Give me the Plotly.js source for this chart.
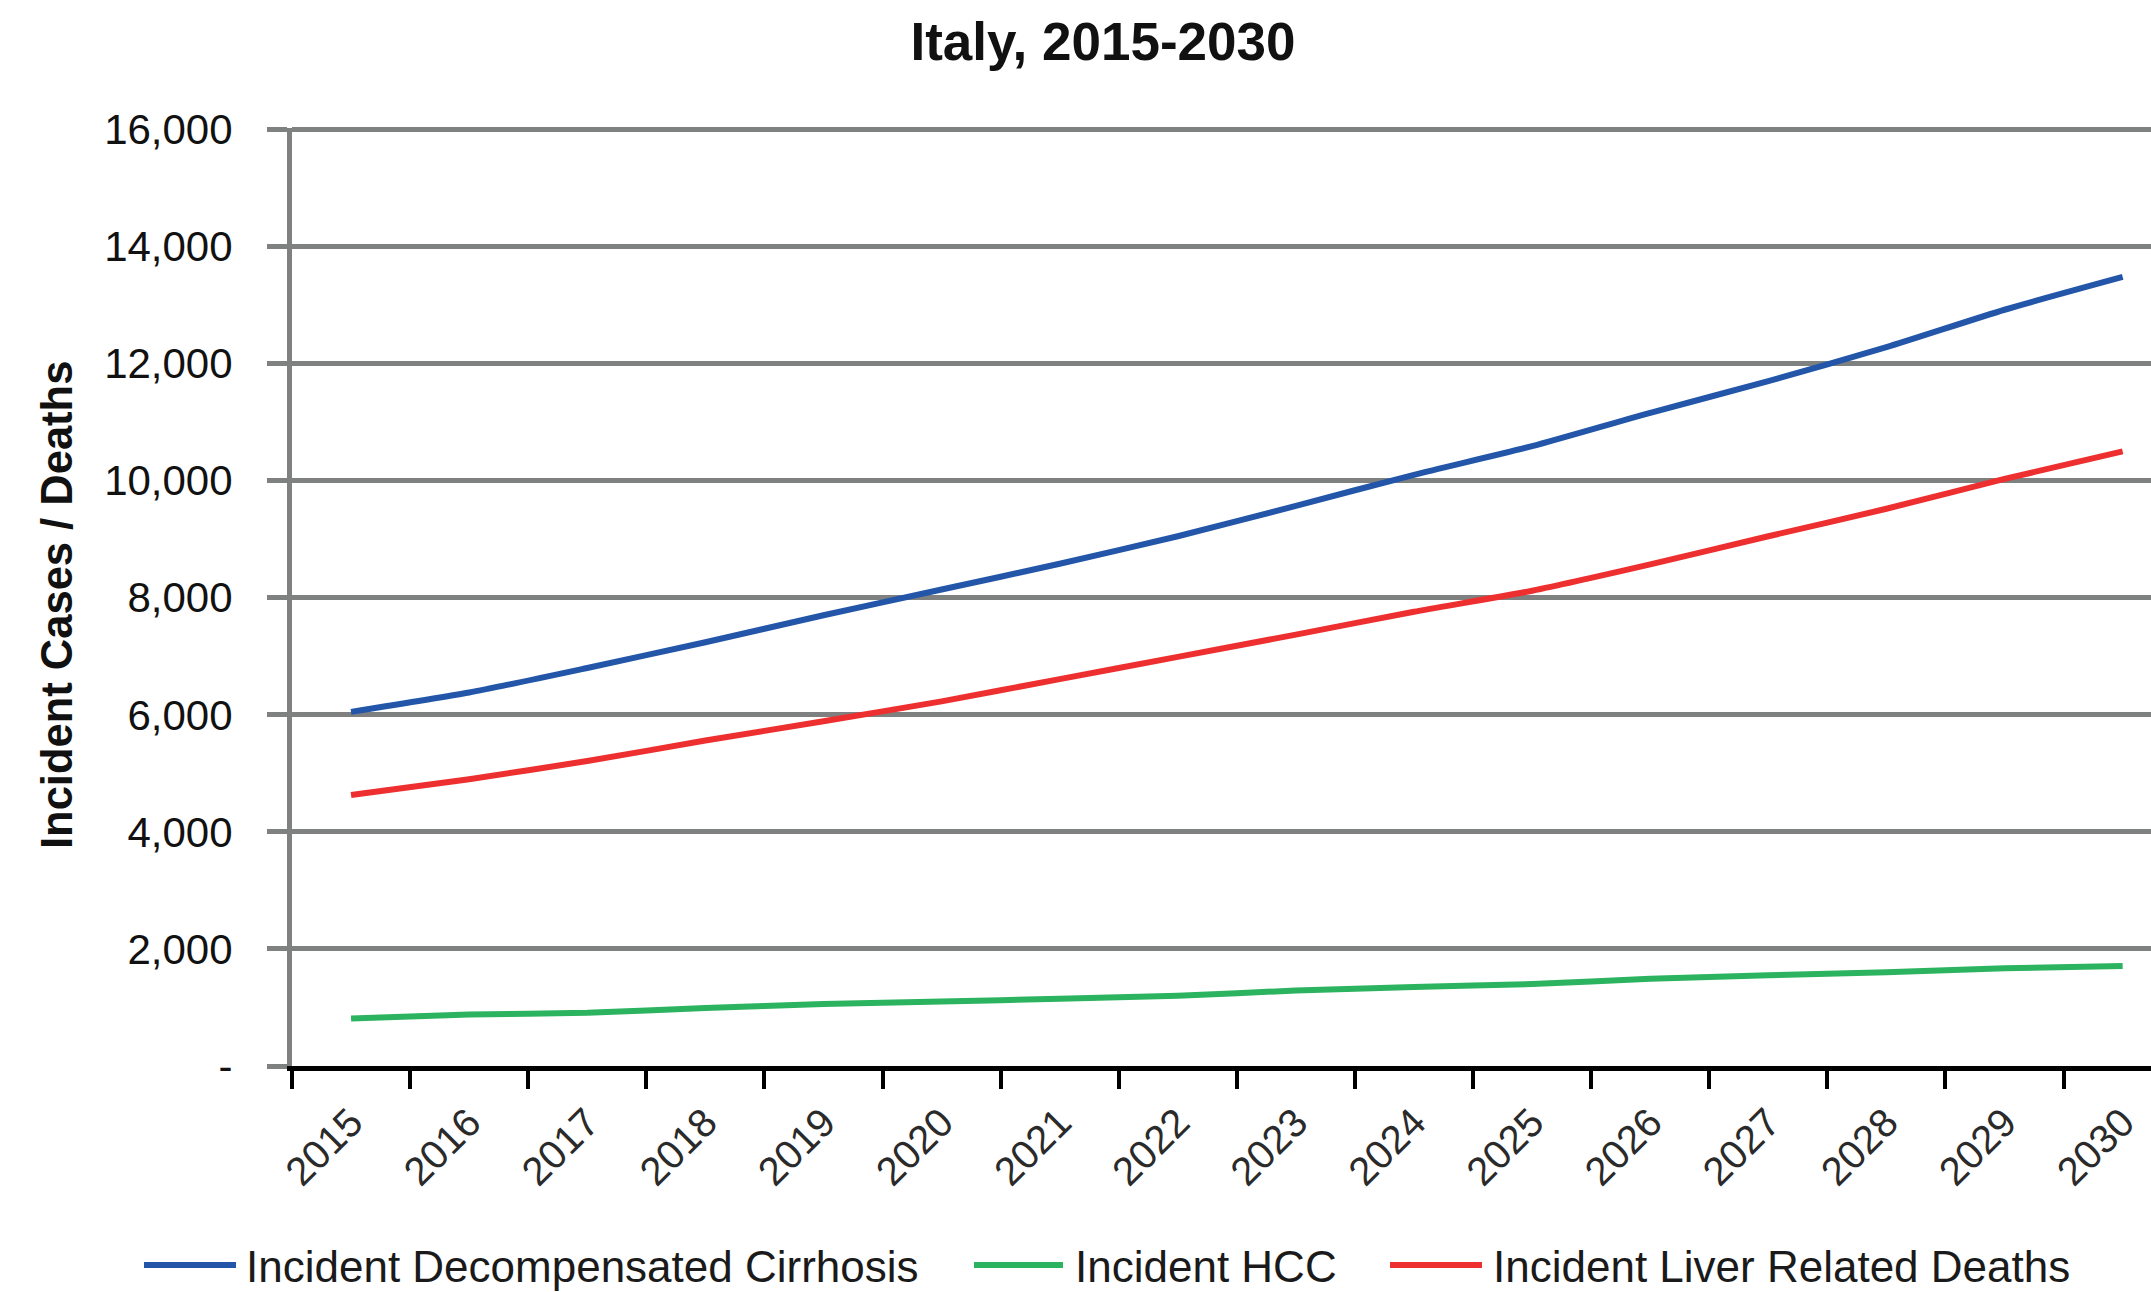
<!DOCTYPE html>
<html>
<head>
<meta charset="utf-8">
<script src="https://cdn.plot.ly/plotly-3.0.1.min.js"></script>
<style>
  html, body { margin: 0; padding: 0; background: #ffffff; }
  #chart { width: 2151px; height: 1292px; }
</style>
</head>
<body>
<div id="chart"></div>
<script>
// ---- Data ----
const years = ["2015","2016","2017","2018","2019","2020","2021","2022","2023","2024","2025","2026","2027","2028","2029","2030"];
const decompensatedCirrhosis = [6050, 6380, 6800, 7240, 7700, 8140, 8580, 9050, 9570, 10100, 10590, 11160, 11700, 12280, 12920, 13480];
const hcc = [810, 880, 910, 990, 1060, 1100, 1150, 1200, 1290, 1350, 1400, 1490, 1550, 1600, 1670, 1710];
const liverDeaths = [4630, 4900, 5210, 5560, 5890, 6230, 6610, 6990, 7370, 7760, 8120, 8570, 9050, 9520, 10030, 10500];
const seriesNames = ["Incident Decompensated Cirrhosis", "Incident HCC", "Incident Liver Related Deaths"];
const seriesColors = ["#2356a8", "#2bb35f", "#ee2f2f"];
const yTickVals = [0, 2000, 4000, 6000, 8000, 10000, 12000, 14000, 16000];
const yTickText = ["-", "2,000", "4,000", "6,000", "8,000", "10,000", "12,000", "14,000", "16,000"];
const chartTitle = "Italy, 2015-2030";
const yTitle = "Incident Cases / Deaths";

const FONT = "Liberation Sans, Arial, sans-serif";
const W = 2151, H = 1292;
const PL = 292, PT = 128, PR = 0, PB = 226;
const plotW = W - PL - PR, plotH = H - PT - PB;
const px2x = (X) => (X - PL) / plotW;
const px2y = (Y) => (H - PB - Y) / plotH;

const seriesValues = [decompensatedCirrhosis, hcc, liverDeaths];
const traces = seriesValues.map((vals, i) => ({
  x: years, y: vals, name: seriesNames[i], type: "scatter", mode: "lines",
  line: { color: seriesColors[i], width: 6, shape: "spline", smoothing: 0.6 },
  showlegend: false
}));

// Legend (drawn as keys + labels, positioned like the reference)
const legendLineX = [[144, 236], [974, 1063], [1390, 1482]];
const legendTextX = [244, 1073, 1491];
const legendY = 1265;
const shapes = [];
const annotations = [];
for (let i = 0; i < seriesNames.length; i++) {
  shapes.push({
    type: "line", xref: "paper", yref: "paper",
    x0: px2x(legendLineX[i][0]), x1: px2x(legendLineX[i][1]),
    y0: px2y(legendY), y1: px2y(legendY),
    line: { color: seriesColors[i], width: 6 }
  });
  annotations.push({
    text: seriesNames[i], xref: "paper", yref: "paper",
    x: px2x(legendTextX[i]), xanchor: "left",
    y: px2y(legendY + 1), yanchor: "middle",
    showarrow: false,
    font: { family: FONT, size: 44, color: "#1a1a1a" }
  });
}
annotations.push({
  text: "<b>" + yTitle + "</b>",
  textangle: -90,
  xref: "paper", x: px2x(57), xanchor: "center",
  yref: "paper", y: px2y(605), yanchor: "middle",
  showarrow: false,
  font: { family: FONT, size: 43.5, color: "#111111" }
});

const layout = {
  width: W,
  height: H,
  paper_bgcolor: "#ffffff",
  plot_bgcolor: "#ffffff",
  margin: { l: PL, r: PR, t: PT, b: PB, pad: 0 },
  font: { family: FONT, color: "#111111" },
  title: {
    text: "<b>" + chartTitle + "</b>",
    font: { family: FONT, size: 53, color: "#111111" },
    x: 1103 / W, xref: "container", xanchor: "center",
    y: 1 - 41 / H, yref: "container", yanchor: "middle"
  },
  showlegend: false,
  xaxis: {
    type: "category",
    range: [-0.5, 15.24],
    tickson: "boundaries",
    ticks: "outside",
    ticklen: 18,
    tickwidth: 4,
    tickcolor: "#000000",
    tickangle: -45,
    ticklabelstandoff: 12,
    tickfont: { family: FONT, size: 40, color: "#2a2a2a" },
    showline: true,
    linecolor: "#000000",
    linewidth: 5,
    showgrid: false,
    zeroline: false,
    fixedrange: true
  },
  yaxis: {
    range: [0, 16025],
    tickmode: "array",
    tickvals: yTickVals,
    ticktext: yTickText,
    ticks: "outside",
    ticklen: 20,
    tickwidth: 5,
    tickcolor: "#7f8080",
    ticklabelstandoff: 26,
    tickfont: { family: FONT, size: 42, color: "#111111" },
    showline: true,
    linecolor: "#7f8080",
    linewidth: 5,
    showgrid: true,
    gridcolor: "#7f8080",
    gridwidth: 5,
    zeroline: false,
    fixedrange: true
  },
  shapes: shapes,
  annotations: annotations
};

Plotly.newPlot("chart", traces, layout, { displayModeBar: false, staticPlot: true });
</script>
</body>
</html>
